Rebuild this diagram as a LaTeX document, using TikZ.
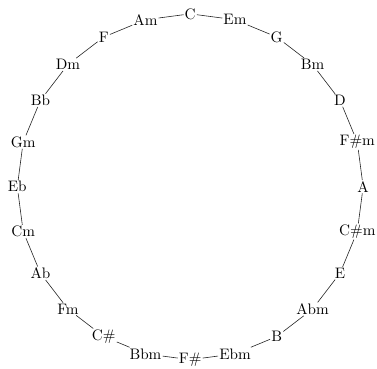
\documentclass[tikz,border=0pt]{standalone}
\usepackage{tikz}
\usetikzlibrary{positioning}

\begin{document}
\begin{tikzpicture}[
key/.style={inner sep=0.6pt,font=\normalsize},
lnk/.style={draw=black!85,line width=0.4pt}
]
\useasboundingbox (-4.40,-4.21) rectangle (4.32,4.32);
\node[key] (kC) at (90:4) {C};
\node[key] (kEm) at (75:4) {Em};
\node[key] (kG) at (60:4) {G};
\node[key] (kBm) at (45:4) {Bm};
\node[key] (kD) at (30:4) {D};
\node[key] (kFsm) at (15:4) {F\#m};
\node[key] (kA) at (0:4) {A};
\node[key] (kCsm) at (-15:4) {C\#m};
\node[key] (kE) at (-30:4) {E};
\node[key] (kAbm) at (-45:4) {Abm};
\node[key] (kB) at (-60:4) {B};
\node[key] (kEbm) at (-75:4) {Ebm};
\node[key] (kFs) at (-90:4) {F\#};
\node[key] (kBbm) at (-105:4) {Bbm};
\node[key] (kCs) at (-120:4) {C\#};
\node[key] (kFm) at (-135:4) {Fm};
\node[key] (kAb) at (-150:4) {Ab};
\node[key] (kCm) at (-165:4) {Cm};
\node[key] (kEb) at (180:4) {Eb};
\node[key] (kGm) at (165:4) {Gm};
\node[key] (kBb) at (150:4) {Bb};
\node[key] (kDm) at (135:4) {Dm};
\node[key] (kF) at (120:4) {F};
\node[key] (kAm) at (105:4) {Am};
\draw[lnk] (kC) -- (kEm);
\draw[lnk] (kEm) -- (kG);
\draw[lnk] (kG) -- (kBm);
\draw[lnk] (kBm) -- (kD);
\draw[lnk] (kD) -- (kFsm);
\draw[lnk] (kFsm) -- (kA);
\draw[lnk] (kA) -- (kCsm);
\draw[lnk] (kCsm) -- (kE);
\draw[lnk] (kE) -- (kAbm);
\draw[lnk] (kAbm) -- (kB);
\draw[lnk] (kB) -- (kEbm);
\draw[lnk] (kEbm) -- (kFs);
\draw[lnk] (kFs) -- (kBbm);
\draw[lnk] (kBbm) -- (kCs);
\draw[lnk] (kCs) -- (kFm);
\draw[lnk] (kFm) -- (kAb);
\draw[lnk] (kAb) -- (kCm);
\draw[lnk] (kCm) -- (kEb);
\draw[lnk] (kEb) -- (kGm);
\draw[lnk] (kGm) -- (kBb);
\draw[lnk] (kBb) -- (kDm);
\draw[lnk] (kDm) -- (kF);
\draw[lnk] (kF) -- (kAm);
\draw[lnk] (kAm) -- (kC);
\end{tikzpicture}
\end{document}
